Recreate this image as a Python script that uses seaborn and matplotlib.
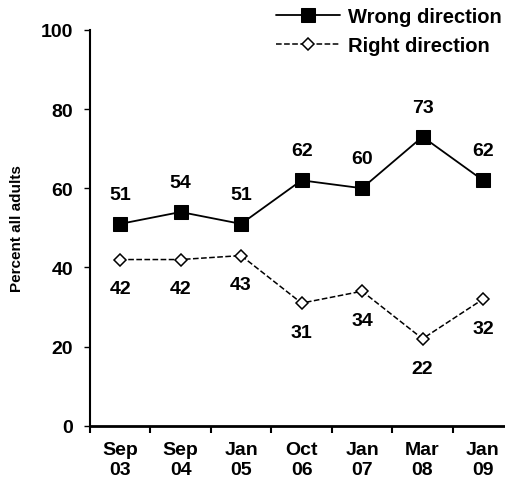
import pandas as pd
import matplotlib.pyplot as plt
import seaborn as sns

periods = ["Sep\n03", "Sep\n04", "Jan\n05", "Oct\n06", "Jan\n07", "Mar\n08", "Jan\n09"]
wrong = [51, 54, 51, 62, 60, 73, 62]
right = [42, 42, 43, 31, 34, 22, 32]

sns.set_style("ticks")
plt.rcParams["font.family"] = ["Liberation Sans", "DejaVu Sans"]
plt.rcParams["font.weight"] = "bold"
plt.rcParams["text.color"] = "black"
plt.rcParams["axes.labelcolor"] = "black"
plt.rcParams["xtick.color"] = "black"
plt.rcParams["ytick.color"] = "black"
plt.rcParams["axes.edgecolor"] = "black"

df = pd.DataFrame({"x": range(len(periods)), "wrong": wrong, "right": right})

fig = plt.figure(figsize=(5.05, 4.89), dpi=100)
ax = fig.add_axes([0.178, 0.127, 0.83, 0.81])

sns.lineplot(data=df, x="x", y="wrong", ax=ax, color="black", lw=1.3,
             marker="s", markersize=10, markerfacecolor="black",
             markeredgecolor="black", label="Wrong direction")
sns.lineplot(data=df, x="x", y="right", ax=ax, color="black", lw=1.1,
             linestyle="--", marker="D", markersize=6.5, markerfacecolor="white",
             markeredgecolor="black", markeredgewidth=1.1, label="Right direction")

for i in range(len(periods)):
    ax.annotate(str(wrong[i]), (i, wrong[i]), xytext=(0, 15), textcoords="offset points",
                ha="center", va="bottom", fontsize=14, fontweight="bold")
    ax.annotate(str(right[i]), (i, right[i]), xytext=(0, -15), textcoords="offset points",
                ha="center", va="top", fontsize=14, fontweight="bold")

ax.set_ylim(0, 100)
ax.set_yticks(range(0, 101, 20))
ax.set_xlim(-0.5, 6.43)
ax.set_xticks([i + 0.5 for i in range(-1, 6)], minor=False)
ax.set_xticklabels([])
ax.set_xticks(range(len(periods)), minor=True)
ax.set_xticklabels(periods, minor=True, fontsize=14, fontweight="bold", linespacing=1.25)
ax.tick_params(axis="x", which="minor", length=0, pad=11)
ax.tick_params(axis="x", which="major", length=5, width=1.5, direction="out")
ax.tick_params(axis="y", length=4, width=1, labelsize=14, pad=8)
for lab in ax.get_yticklabels():
    lab.set_fontweight("bold")

ax.set_xlabel("")
ax.set_ylabel("Percent all adults", fontsize=11, fontweight="bold", labelpad=12)
ax.spines["top"].set_visible(False)
ax.spines["right"].set_visible(False)
ax.spines["bottom"].set_linewidth(2)
ax.spines["left"].set_linewidth(1.5)

ax.legend_.remove()
handles, labels = ax.get_legend_handles_labels()
fig.legend(handles, labels, loc="upper right", bbox_to_anchor=(1.03, 1.02), frameon=False,
           prop={"size": 14.5, "weight": "bold"}, handlelength=3.2, handletextpad=0.4,
           labelspacing=0.5)

fig.savefig("out.png", dpi=100)
